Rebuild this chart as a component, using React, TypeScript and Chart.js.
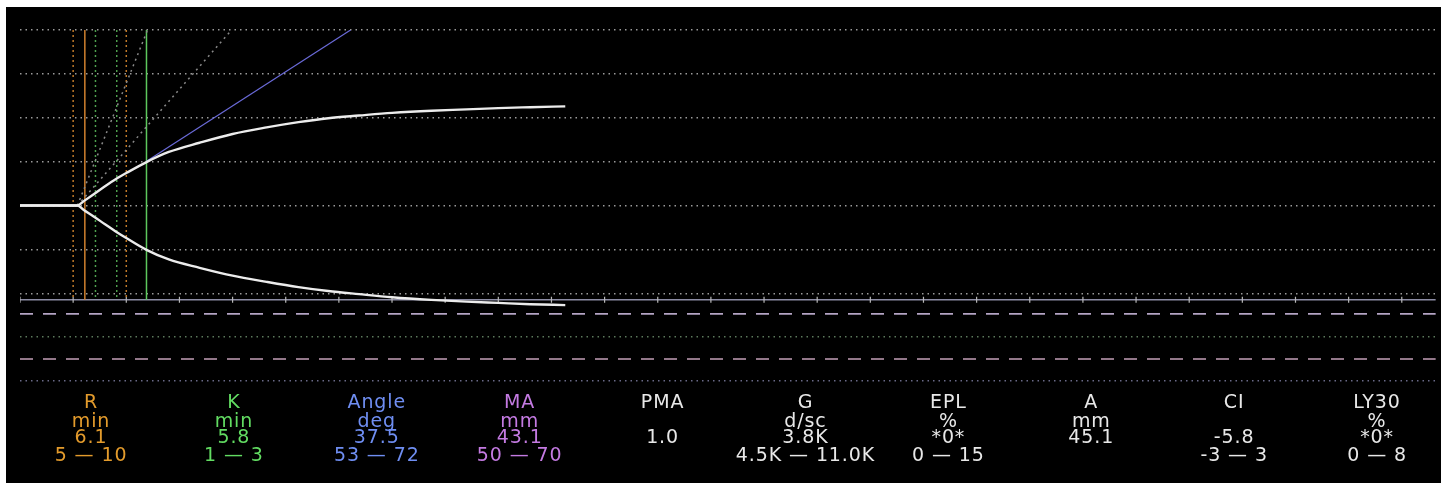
import React, { useEffect, useRef } from "react";
import { Chart, registerables } from "chart.js";

Chart.register(...registerables);

// ---- data (time in minutes, amplitude in mm, half-amplitude about baseline) ----
const TRACE_TIME = [0, 5.4, 6.0, 7.0, 8.0, 9.0, 10.0, 11.9, 14.0, 16.9, 20.0, 23.2, 26.2, 29.0, 31.9, 35.0, 38.7, 42.0, 45.0, 48.0, 51.3];
const TRACE_UPPER = [0, 0, 1.0, 2.7, 4.4, 6.0, 7.4, 9.9, 12.2, 14.3, 16.3, 17.8, 19.0, 19.9, 20.5, 21.1, 21.6, 21.9, 22.2, 22.4, 22.6];
const TRACE_LOWER = [0, 0, -1.0, -2.6, -4.3, -5.9, -7.4, -10.1, -12.3, -14.2, -16.0, -17.4, -18.6, -19.5, -20.2, -20.9, -21.5, -21.9, -22.2, -22.5, -22.7];

const R_VALUE = 6.1;
const R_RANGE = [5, 10];
const K_MARKS = [7.1, 9.1];
const RK_VALUE = 11.9;
const ANGLE_LINE_T = [11.9, 31.1];
const ANGLE_LINE_V = [10.1, 40];
const ANGLE_LOW_T = [5.4, 19.9];
const ANGLE_HIGH_T = [5.4, 12.0];
const ANGLE_REF_V = [0, 40];

const AXIS_LEVEL = -21.5;
const DASH_LEVELS = [-24.7, -35.0];
const AXIS_TICKS = [0, 5, 10, 15, 20, 25, 30, 35, 40, 45, 50, 55, 60, 65, 70, 75, 80, 85, 90, 95, 100, 105, 110, 115, 120, 125, 130];
const X_MAX = 133.2;

const COLUMN_NAMES = ["R", "K", "Angle", "MA", "PMA", "G", "EPL", "A", "CI", "LY30"];
const COLUMN_UNITS = ["min", "min", "deg", "mm", "", "d/sc", "%", "mm", "", "%"];
const COLUMN_VALUES = ["6.1", "5.8", "37.5", "43.1", "1.0", "3.8K", "*0*", "45.1", "-5.8", "*0*"];
const COLUMN_RANGES = ["5 — 10", "1 — 3", "53 — 72", "50 — 70", "", "4.5K — 11.0K", "0 — 15", "", "-3 — 3", "0 — 8"];
const COLUMN_COLORS = ["#e39b2c", "#62dc62", "#6f8ef2", "#c47ae2", "#e8e8e8", "#e8e8e8", "#e8e8e8", "#e8e8e8", "#e8e8e8", "#e8e8e8"];

const pts = (xs: number[], ys: number[]) => xs.map((x, i) => ({ x, y: ys[i] }));
const vline = (t: number) => [{ x: t, y: 40 }, { x: t, y: AXIS_LEVEL }];
const hline = (v: number) => [{ x: 0, y: v }, { x: X_MAX, y: v }];

const lineDs = (data: any[], color: string, width: number, dash: number[] = [], extra: any = {}) => ({
  data,
  showLine: true,
  borderColor: color,
  borderWidth: width,
  borderDash: dash,
  pointRadius: 0,
  fill: false,
  ...extra,
});

export default function App() {
  const ref = useRef<HTMLCanvasElement | null>(null);

  useEffect(() => {
    if (!ref.current) return;
    const datasets: any[] = [
      lineDs(pts(TRACE_TIME, TRACE_UPPER), "#ececec", 2.4, [], { cubicInterpolationMode: "monotone" }),
      lineDs(pts(TRACE_TIME, TRACE_LOWER), "#ececec", 2.4, [], { cubicInterpolationMode: "monotone" }),
      lineDs(pts(ANGLE_LINE_T, ANGLE_LINE_V), "#6a6ad8", 1.2),
      lineDs(pts(ANGLE_LOW_T, ANGLE_REF_V), "#8a8a8a", 1.5, [2, 4]),
      lineDs(pts(ANGLE_HIGH_T, ANGLE_REF_V), "#8a8a8a", 1.5, [2, 4]),
      lineDs(vline(RK_VALUE), "#5ec85e", 1.5),
      lineDs(vline(R_VALUE), "#d0802e", 1.5),
      ...K_MARKS.map((t) => lineDs(vline(t), "#4fa04f", 1.5, [2, 3])),
      ...R_RANGE.map((t) => lineDs(vline(t), "#c07a2a", 1.5, [2, 3])),
      {
        data: AXIS_TICKS.map((t) => ({ x: t, y: AXIS_LEVEL })),
        showLine: false,
        pointStyle: "line",
        rotation: 90,
        pointRadius: 3,
        pointBorderColor: "#b8b8b8",
        pointBorderWidth: 1.2,
      },
      lineDs(hline(AXIS_LEVEL), "#8c8ca4", 1.5),
      lineDs(hline(DASH_LEVELS[0]), "#b4a4c4", 1.6, [13, 10]),
      lineDs(hline(DASH_LEVELS[1]), "#c4a0b8", 1.6, [13, 10]),
    ];

    const chart = new Chart(ref.current, {
      type: "scatter",
      data: { datasets },
      options: {
        animation: false,
        responsive: false,
        maintainAspectRatio: false,
        layout: { padding: { left: 14, top: 23, right: 0, bottom: 102 } },
        plugins: { legend: { display: false }, tooltip: { enabled: false } },
        scales: {
          x: { type: "linear", min: 0, max: X_MAX, display: false },
          y: {
            type: "linear",
            min: -40,
            max: 40,
            ticks: { display: false, stepSize: 10 },
            border: { display: false, dash: [1.5, 4] },
            grid: {
              drawTicks: false,
              lineWidth: 1.5,
              color: (ctx: any) =>
                ctx.tick && ctx.tick.value === -30
                  ? "#5c7a5c"
                  : ctx.tick && ctx.tick.value === -40
                  ? "#6a6a88"
                  : "#9a9a9a",
            },
          },
        },
      } as any,
    });
    return () => chart.destroy();
  }, []);

  const centers = COLUMN_NAMES.map((_, i) => 85 + 142.9 * i);
  const rowTops = [385, 404, 420, 438];

  return (
    <div
      style={{
        position: "fixed",
        left: 6,
        top: 7,
        width: 1435,
        height: 476,
        background: "#000",
        overflow: "hidden",
      }}
    >
      <canvas ref={ref} width={1435} height={476} style={{ position: "absolute", left: 0, top: 0, width: 1435, height: 476 }} />
      {COLUMN_NAMES.map((name, i) => {
        const rows = [name, COLUMN_UNITS[i], COLUMN_VALUES[i], COLUMN_RANGES[i]];
        return rows.map((txt, r) =>
          txt ? (
            <div
              key={`${i}-${r}`}
              style={{
                position: "absolute",
                left: centers[i] - 100,
                width: 200,
                top: rowTops[r],
                textAlign: "center",
                fontFamily: "'DejaVu Sans', Verdana, sans-serif",
                fontSize: 19,
                lineHeight: "19px",
                letterSpacing: "0.9px",
                color: COLUMN_COLORS[i],
                whiteSpace: "nowrap",
              }}
            >
              {txt}
            </div>
          ) : null
        );
      })}
    </div>
  );
}
